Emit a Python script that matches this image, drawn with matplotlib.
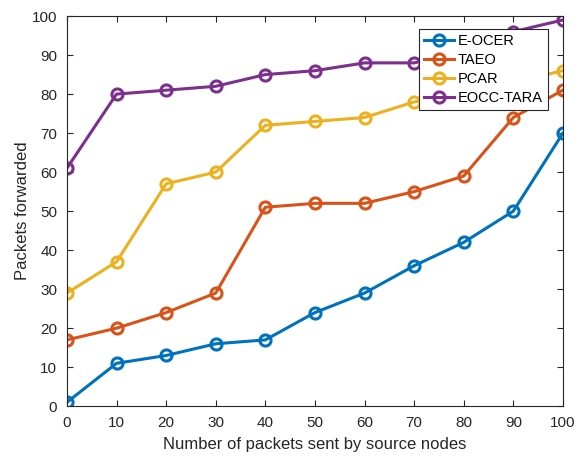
import numpy as np
import matplotlib.pyplot as plt

plt.rcParams['font.family'] = ['Liberation Sans', 'DejaVu Sans']

#データ
x = [0, 10, 20, 30, 40, 50, 60, 70, 80, 90, 100]
e_ocer = [1, 11, 13, 16, 17, 24, 29, 36, 42, 50, 70]
taeo = [17, 20, 24, 29, 51, 52, 52, 55, 59, 74, 81]
pcar = [29, 37, 57, 60, 72, 73, 74, 78, 80, 83, 86]
eocc_tara = [61, 80, 81, 82, 85, 86, 88, 88, 91, 96, 99]

series = [
	(e_ocer, 'E-OCER', '#0072BD'),
	(taeo, 'TAEO', '#D95319'),
	(pcar, 'PCAR', '#EDB120'),
	(eocc_tara, 'EOCC-TARA', '#7E2F8E'),
]

fig = plt.figure(figsize=(5.87, 4.59), dpi=100)
ax = fig.add_axes([0.114, 0.115, 0.845, 0.85])

for y, name, c in series:
	ax.plot(x, y, '-o', color=c, lw=2.2, ms=8, mfc='none', mew=2.2, label=name)

ax.set_xlim(0, 100)
ax.set_ylim(0, 100)
ax.set_xticks(np.arange(0, 101, 10))
ax.set_yticks(np.arange(0, 101, 10))
ax.tick_params(direction='in', top=True, right=True, labelsize=11, colors='#262626', length=4, pad=7)
for s in ax.spines.values():
	s.set_color('#262626')
	s.set_linewidth(0.8)

ax.set_xlabel('Number of packets sent by source nodes', fontsize=12, color='#262626', labelpad=5)
ax.set_ylabel('Packets forwarded', fontsize=12, color='#262626', labelpad=1)

leg = ax.legend(loc='upper right', bbox_to_anchor=(0.97, 0.967), borderaxespad=0, fontsize=10.5, fancybox=False,
	edgecolor='#262626', framealpha=1, borderpad=0.35, labelspacing=0.35, handlelength=2.0, handletextpad=0.3)
leg.get_frame().set_linewidth(0.8)

fig.savefig('out.png', dpi=100)
